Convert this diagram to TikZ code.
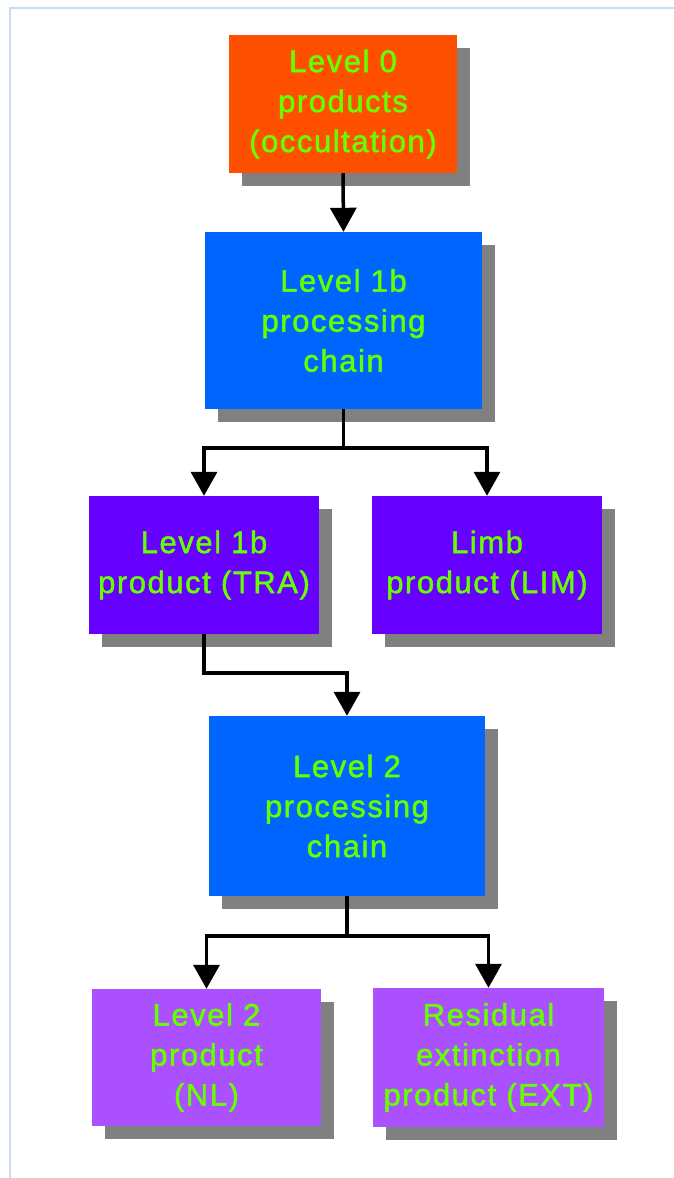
\documentclass[tikz,border=0pt]{standalone}
\usepackage{fontspec}
\setmainfont{Liberation Sans}
\newfontfamily\boxfont[LetterSpace=5,FakeBold=1.5]{Liberation Sans}
\usetikzlibrary{arrows.meta,shadows}

\definecolor{framecol}{RGB}{200,220,245}
\definecolor{txtgreen}{RGB}{102,255,0}
\definecolor{lvlzero}{RGB}{255,80,0}
\definecolor{chainblue}{RGB}{0,102,255}
\definecolor{prodviolet}{RGB}{102,0,255}
\definecolor{lvltwo}{RGB}{170,80,255}
\definecolor{shadowgray}{RGB}{128,128,128}

\tikzset{
  flowbox/.style={
    rectangle, inner sep=0pt, align=center,
    text=txtgreen,
    font=\boxfont\fontsize{31}{40}\selectfont,
    general shadow={fill=shadowgray, shadow xshift=13pt, shadow yshift=-13pt}
  },
  flowarrow/.style={
    line width=3.5pt, draw=black,
    -{Triangle[width=26pt,length=24pt]}
  }
}

\begin{document}
\begin{tikzpicture}[x=1pt,y=-1pt]
  \useasboundingbox (0,0) rectangle (674,1178);
  % page frame
  \draw[framecol, line width=2pt] (10,1180) -- (10,8) -- (676,8);

  % boxes
  \node[flowbox, fill=lvlzero, minimum width=228pt, minimum height=138pt]
    (lzero) at (343,104) {Level 0\\products\\(occultation)};
  \node[flowbox, fill=chainblue, minimum width=277pt, minimum height=177pt]
    (chainone) at (343.5,320.5) {Level 1b\\processing\\chain};
  \node[flowbox, fill=prodviolet, minimum width=230pt, minimum height=138pt]
    (tra) at (204,565) {Level 1b\\product (TRA)};
  \node[flowbox, fill=prodviolet, minimum width=230pt, minimum height=138pt]
    (lim) at (487,565) {Limb\\product (LIM)};
  \node[flowbox, fill=chainblue, minimum width=276pt, minimum height=180pt]
    (chaintwo) at (347,806) {Level 2\\processing\\chain};
  \node[flowbox, fill=lvltwo, minimum width=229pt, minimum height=137pt]
    (nl) at (206.5,1057.5) {Level 2\\product\\(NL)};
  \node[flowbox, fill=lvltwo, minimum width=231pt, minimum height=139pt]
    (ext) at (488.5,1057.5) {Residual\\extinction\\product (EXT)};

  % connectors
  \draw[flowarrow] (lzero.south) -- (chainone.north);
  \draw[flowarrow] (chainone.south) -- ++(0,39) -| (tra.north);
  \draw[flowarrow] (chainone.south) -- ++(0,39) -| (lim.north);
  \draw[flowarrow] (tra.south) -- ++(0,39) -| (chaintwo.north);
  \draw[flowarrow] (chaintwo.south) -- ++(0,40) -| (nl.north);
  \draw[flowarrow] (chaintwo.south) -- ++(0,40) -| (ext.north);
\end{tikzpicture}
\end{document}
